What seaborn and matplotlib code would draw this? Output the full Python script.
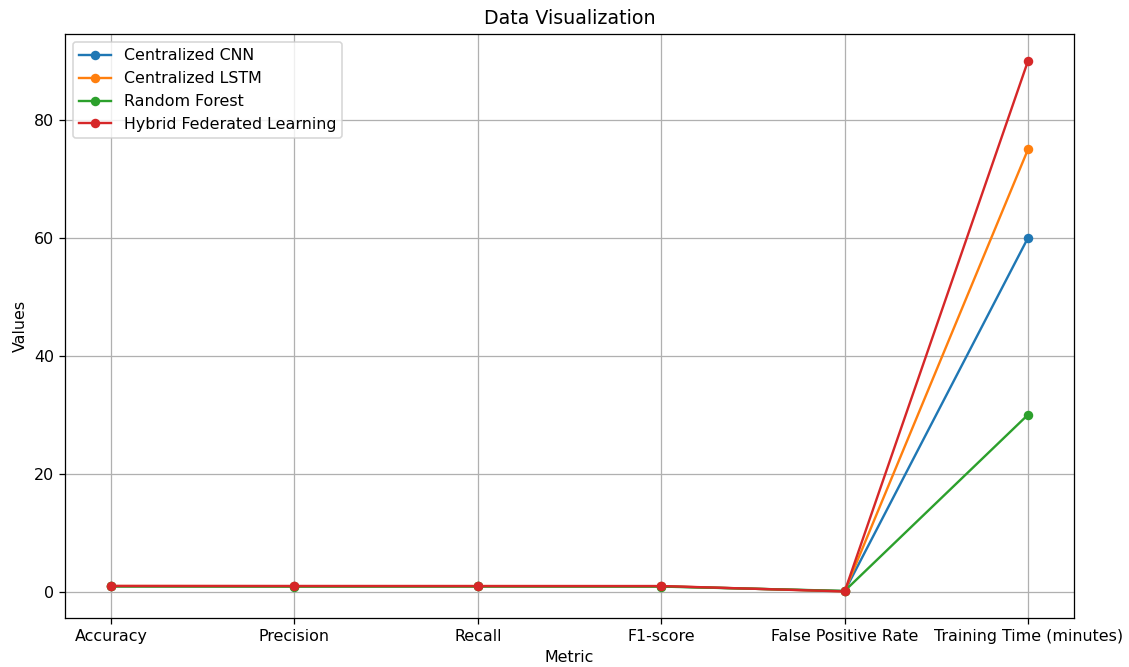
import matplotlib
matplotlib.use("Agg")
import matplotlib.pyplot as plt
import seaborn as sns
import pandas as pd
import numpy as np

metrics = ["Accuracy", "Precision", "Recall", "F1-score", "False Positive Rate", "Training Time (minutes)"]
models = ["Centralized CNN", "Centralized LSTM", "Random Forest", "Hybrid Federated Learning"]
cnn = [0.92, 0.90, 0.91, 0.90, 0.08, 60]
lstm = [0.94, 0.92, 0.93, 0.92, 0.06, 75]
rf = [0.88, 0.86, 0.87, 0.86, 0.12, 30]
hybrid = [0.97, 0.96, 0.95, 0.95, 0.03, 90]
colors = ["#1f77b4", "#ff7f0e", "#2ca02c", "#d62728"]

rows = []
for m, vals in zip(models, [cnn, lstm, rf, hybrid]):
    for i, v in enumerate(vals):
        rows.append({"Model": m, "idx": i, "Value": v})
df = pd.DataFrame(rows)

DPI = 114
fig, ax = plt.subplots(figsize=(1129 / DPI, 667 / DPI), dpi=DPI)
sns.lineplot(data=df, x="idx", y="Value", hue="Model", hue_order=models,
             palette=colors, marker="o", markersize=6, markeredgewidth=0,
             sort=False, ax=ax, linewidth=1.5)
for line, c in zip(ax.get_lines(), colors):
    line.set_markeredgecolor(c)
ax.set_xticks(range(len(metrics)))
ax.set_xticklabels(metrics)
ax.set_yticks([0, 20, 40, 60, 80])
ax.grid(True)
ax.set_title("Data Visualization")
ax.set_xlabel("Metric")
ax.set_ylabel("Values")
leg = ax.legend(loc="upper left")
for h in leg.legend_handles:
    h.set_markeredgewidth(0)
plt.subplots_adjust(left=65 / 1129, right=1074 / 1129, top=1 - 34 / 667, bottom=1 - 618 / 667)
fig.savefig("out.png", dpi=DPI)
